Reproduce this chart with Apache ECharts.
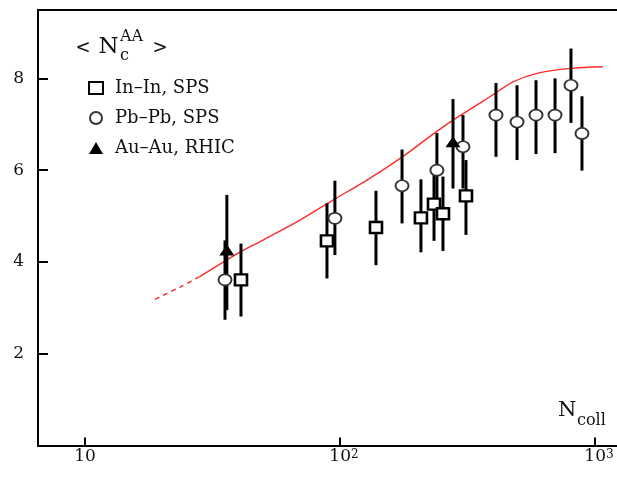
<!DOCTYPE html>
<html>
<head>
<meta charset="utf-8">
<script src="https://cdn.jsdelivr.net/npm/echarts@6/dist/echarts.min.js"></script>
<style>
html,body{margin:0;padding:0;background:#fff;}
#chart{width:617px;height:478px;}
</style>
</head>
<body>
<div id="chart"></div>
<script>
// ---- data ----
const nCurveDash = [18.8, 23.6, 28.2];
const vCurveDash = [3.185, 3.453, 3.682];
const nCurve = [28.2, 39.8, 49.9, 69.7, 93.9, 127.6, 175.1, 231.6, 277.5, 354, 405.5, 476.8, 592.4, 798, 1074];
const vCurve = [3.682, 4.187, 4.477, 4.913, 5.349, 5.784, 6.285, 6.786, 7.092, 7.462, 7.673, 7.926, 8.109, 8.218, 8.253];

const inInN    = [40.9, 88.9, 138.4, 207.7, 233.7, 253.4, 311.9];
const inInVal  = [3.61, 4.46, 4.75, 4.96, 5.26, 5.05, 5.44];
const inInLow  = [2.81, 3.64, 3.93, 4.21, 4.46, 4.24, 4.59];
const inInHigh = [4.40, 5.28, 5.55, 5.80, 6.06, 5.86, 6.22];

const pbPbN    = [35.4, 95.5, 175.1, 239.9, 303.6, 409, 494.6, 587, 697, 805, 889];
const pbPbVal  = [3.61, 4.95, 5.66, 6.00, 6.51, 7.20, 7.05, 7.20, 7.20, 7.85, 6.80];
const pbPbLow  = [2.74, 4.15, 4.84, 5.20, 5.60, 6.29, 6.22, 6.35, 6.37, 7.03, 5.99];
const pbPbHigh = [4.47, 5.77, 6.45, 6.81, 7.20, 7.90, 7.85, 7.96, 8.00, 8.65, 7.61];

const auAuN    = [36.0, 277.4];
const auAuVal  = [4.26, 6.62];
const auAuLow  = [2.95, 5.60];
const auAuHigh = [5.46, 7.55];

const seriesNames = ['In\u2013In, SPS', 'Pb\u2013Pb, SPS', 'Au\u2013Au, RHIC'];
const yTicks = [2, 4, 6, 8];
const xTickLabels = {1: '10', 2: '10', 3: '10'};

// ---- helpers ----
const FONT = 'DejaVu Serif';
function pairs(xs, ys) { return xs.map((x, i) => [x, ys[i]]); }
function errData(xs, lo, hi) { return xs.map((x, i) => [x, lo[i], hi[i]]); }
function errSeries(data) {
  return {
    type: 'custom', xAxisIndex: 0, yAxisIndex: 0, z: 3, silent: true,
    data: data,
    renderItem: function (params, api) {
      const p1 = api.coord([api.value(0), api.value(1)]);
      const p2 = api.coord([api.value(0), api.value(2)]);
      return { type: 'line', shape: { x1: p1[0], y1: p1[1], x2: p2[0], y2: p2[1] },
               style: { stroke: '#000', lineWidth: 3 } };
    },
    encode: { x: 0, y: [1, 2] }
  };
}

const xMin = Math.pow(10, 1 + (38 - 85) / 255);
const xMax = Math.pow(10, 1 + (617 - 85) / 255);

const chart = echarts.init(document.getElementById('chart'), null, { renderer: 'canvas' });
chart.setOption({
  animation: false,
  backgroundColor: '#fff',
  grid: { left: 38, top: 10, right: 0, bottom: 32.5, containLabel: false },
  xAxis: [{
    type: 'log', logBase: 10, min: xMin, max: xMax,
    axisLine: { show: true, lineStyle: { color: '#000', width: 2 } },
    axisTick: { show: true, inside: true, length: 8, lineStyle: { color: '#000', width: 2 } },
    splitLine: { show: false },
    axisLabel: {
      show: true, margin: 3, showMinLabel: false, showMaxLabel: false,
      color: '#111', fontFamily: FONT, fontSize: 17,
      formatter: function (v) {
        const l = Math.log10(v); const e = Math.round(l);
        if (Math.abs(l - e) > 1e-6 || !xTickLabels[e]) return '';
        if (e === 1) return '{b|' + xTickLabels[e] + '}{s|\u200b}';
        return '{p|\u200b}{b|' + xTickLabels[e] + '}{s|' + e + '}';
      },
      rich: {
        b: { fontFamily: FONT, fontSize: 17, lineHeight: 17, verticalAlign: 'bottom', color: '#111' },
        s: { fontFamily: FONT, fontSize: 12, lineHeight: 12, padding: [0, 0, 14, 0], verticalAlign: 'top', color: '#111' },
        p: { fontFamily: FONT, fontSize: 12, width: 8 }
      }
    }
  }, {
    type: 'log', logBase: 10, min: xMin, max: xMax, position: 'top',
    axisLine: { show: true, lineStyle: { color: '#000', width: 2 } },
    axisTick: { show: false }, axisLabel: { show: false }, splitLine: { show: false }
  }],
  yAxis: {
    type: 'value', min: 0, max: 9.49, interval: 2,
    axisLine: { show: true, lineStyle: { color: '#000', width: 2 } },
    axisTick: { show: true, inside: true, length: 10, lineStyle: { color: '#000', width: 2 } },
    splitLine: { show: false },
    axisLabel: {
      margin: 14, showMinLabel: false, showMaxLabel: false,
      color: '#111', fontFamily: FONT, fontSize: 17,
      formatter: function (v) { return yTicks.indexOf(v) >= 0 ? String(v) : ''; }
    }
  },
  legend: {
    data: seriesNames, orient: 'vertical', left: 83, top: 74,
    itemWidth: 14, itemHeight: 12, itemGap: 12,
    selectedMode: false,
    textStyle: { fontFamily: FONT, fontSize: 18, color: '#111', lineHeight: 17, padding: [0, 0, 0, 7] }
  },
  graphic: [
    { type: 'text', x: 83, y: 48, style: { text: '<', font: '18px "DejaVu Serif"', fill: '#111', align: 'center', verticalAlign: 'middle' } },
    { type: 'text', x: 108.5, y: 47, style: { text: 'N', font: '23px "DejaVu Serif"', fill: '#111', align: 'center', verticalAlign: 'middle' } },
    { type: 'text', x: 120, y: 37, style: { text: 'AA', font: '16px "DejaVu Serif"', fill: '#111', align: 'left', verticalAlign: 'middle' } },
    { type: 'text', x: 120, y: 56, style: { text: 'c', font: '16px "DejaVu Serif"', fill: '#111', align: 'left', verticalAlign: 'middle' } },
    { type: 'text', x: 160, y: 48, style: { text: '>', font: '18px "DejaVu Serif"', fill: '#111', align: 'center', verticalAlign: 'middle' } },
    { type: 'text', x: 558, y: 411, style: { text: 'N', font: '21px "DejaVu Serif"', fill: '#111', align: 'left', verticalAlign: 'middle' } },
    { type: 'text', x: 577, y: 421, style: { text: 'coll', font: '16px "DejaVu Serif"', fill: '#111', align: 'left', verticalAlign: 'middle' } }
  ],
  series: [
    { type: 'line', name: 'curve-dash', data: pairs(nCurveDash, vCurveDash), smooth: 0.3, symbol: 'none', z: 1,
      lineStyle: { color: '#ff2a2a', width: 1.4, type: [5, 4] }, silent: true },
    { type: 'line', name: 'curve', data: pairs(nCurve, vCurve), smooth: 0.3, symbol: 'none', z: 1,
      lineStyle: { color: '#ff2a2a', width: 1.4 }, silent: true },
    errSeries(errData(inInN, inInLow, inInHigh)),
    errSeries(errData(pbPbN, pbPbLow, pbPbHigh)),
    errSeries(errData(auAuN, auAuLow, auAuHigh)),
    { type: 'scatter', name: seriesNames[0], data: pairs(inInN, inInVal), symbol: 'rect', symbolSize: [12, 11], z: 5,
      itemStyle: { color: '#fff', borderColor: '#000', borderWidth: 2.5, opacity: 1 } },
    { type: 'scatter', name: seriesNames[1], data: pairs(pbPbN, pbPbVal), symbol: 'circle', symbolSize: [13, 11], z: 5,
      itemStyle: { color: '#fff', borderColor: '#333', borderWidth: 1.8, opacity: 1 } },
    { type: 'scatter', name: seriesNames[2], data: pairs(auAuN, auAuVal), symbol: 'triangle', symbolSize: [15, 11], z: 5,
      itemStyle: { color: '#000', borderColor: '#000', borderWidth: 0, opacity: 1 } }
  ]
});
</script>
</body>
</html>
